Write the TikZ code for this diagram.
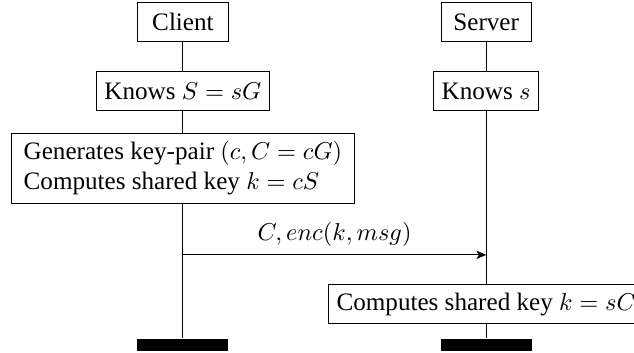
\documentclass[tikz,border=0pt]{standalone}
\usepackage{fontspec}
\setmainfont{Liberation Serif}
\usepackage{tikz}
\usetikzlibrary{positioning}
\usetikzlibrary{arrows.meta}
\tikzset{
	>={Stealth[length=4pt, width=3.4pt, inset=1pt]},
	actor/.style={
		rectangle,
		draw=black,
		minimum width=37pt,
		minimum height=16pt},
	stepbox/.style={
		rectangle,
		draw=black, fill=white,
		minimum height=16pt},
	lifeline/.style={draw, thin},
	endbar/.style={
		rectangle,
		fill=black,
		minimum width=37.3pt,
		minimum height=4.9pt,
		inner sep=0pt},
}
\begin{document}
\begin{tikzpicture}
	[node distance=12pt, font=\fontsize{10.3}{12.3}\selectfont]
	\useasboundingbox (-75pt,9pt) rectangle (184.9pt,-135.3pt);
	% client side
	\node[actor] (client) at (0,0) {Client};
	\node[stepbox, below=11.9pt of client] (knowsS) {Knows $S = sG$};
	\node[stepbox, below=9pt of knowsS, align=left, inner xsep=5pt] (gen)
		{Generates key-pair $(c, C = cG)$\\Computes shared key $k = cS$};
	% server side
	\node[actor, right=86.9pt of client] (server) {Server};
	\node[stepbox, below=11.9pt of server] (knowss) {Knows $s$};
	\node[stepbox, below=71pt of knowss] (shared) {Computes shared key $k = sC$};
	\node[endbar, below=5.7pt of shared] (send) {};
	\node[endbar] (cend) at (send -| client) {};
	% lifelines
	\path[lifeline] (client) -- (knowsS) -- (gen) -- (cend);
	\path[lifeline] (server) -- (knowss) -- (shared) -- (send);
	% message
	\coordinate[below=20.9pt of gen] (msg);
	\draw[->] (msg) -- (msg -| server) node[midway, above] {$C, enc(k, msg)$};
\end{tikzpicture}
\end{document}
